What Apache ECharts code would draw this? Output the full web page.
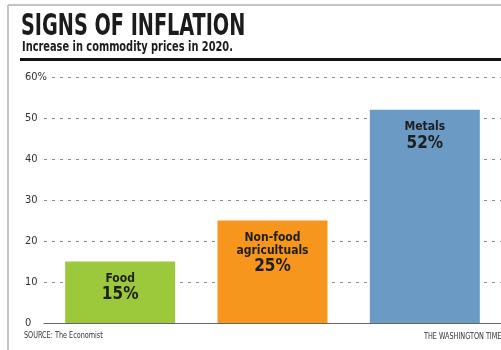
<!DOCTYPE html>
<html lang="en">
<head>
  <meta charset="utf-8">
  <style>
    html, body { margin: 0; padding: 0; background: #fff; }
    #chart { width: 501px; height: 350px; }
  </style>
</head>
<body>
  <div id="chart"></div>
  <script src="https://cdn.jsdelivr.net/npm/echarts@6/dist/echarts.min.js"></script>
  <script>
    // categories and values (percent increase in 2020)
    const categories = ['Food', 'Non-food\nagricultuals', 'Metals'];
    const values = [15, 25, 52];
    const barColors = ['#9cc93b', '#f7961d', '#6b9bc5'];
    const yTicks = [0, 10, 20, 30, 40, 50, 60];

    const FONT = '"DejaVu Sans Condensed", "Liberation Sans Narrow", "Roboto", sans-serif';

    var myChart = echarts.init(document.getElementById('chart'), null, { renderer: 'canvas' });

    var option = {
      animation: false,
      textStyle: { fontFamily: FONT },
      graphic: [
        // frame
        { type: 'line', shape: { x1: 8, y1: 5, x2: 501, y2: 5 }, style: { stroke: '#c4c4c4', lineWidth: 2 } },
        { type: 'line', shape: { x1: 8, y1: 5, x2: 8, y2: 350 }, style: { stroke: '#c4c4c4', lineWidth: 2 } },
        // headline, squeezed to look like the condensed newspaper face
        { type: 'text', x: 21, y: 11, scaleX: 0.69, style: { text: 'SIGNS OF INFLATION', font: 'bold 31px ' + FONT, fill: '#1b1b1b' } },
        { type: 'text', x: 22, y: 40, scaleX: 0.78, style: { text: 'Increase in commodity prices in 2020.', font: 'bold 14px ' + FONT, fill: '#1b1b1b' } },
        // thick rule under subtitle
        { type: 'rect', shape: { x: 20, y: 58, width: 481, height: 3 }, style: { fill: '#111' } },
        { type: 'text', x: 24, y: 331, scaleX: 0.8, style: { text: 'SOURCE: The Economist', font: '9px ' + FONT, fill: '#333' } },
        { type: 'text', x: 424, y: 332, scaleX: 0.8, style: { text: 'THE WASHINGTON TIMES', font: '9px ' + FONT, fill: '#333' } }
      ],
      grid: [
        { left: 44, right: 0, top: 77, bottom: 27 },
        { left: 28, right: 0, top: 77, bottom: 27 }
      ],
      xAxis: [
        {
          type: 'category',
          gridIndex: 0,
          data: categories,
          axisLine: { lineStyle: { color: '#666', width: 1 } },
          axisTick: { inside: true, length: 6, lineStyle: { color: '#666' } },
          axisLabel: { show: false },
          z: 10
        },
        { type: 'value', gridIndex: 1, show: false }
      ],
      yAxis: [
        {
          type: 'value',
          gridIndex: 0,
          min: 0, max: 60, interval: 10,
          axisLine: { show: false },
          axisTick: { show: false },
          axisLabel: { show: false },
          splitLine: { show: false }
        },
        {
          type: 'value',
          gridIndex: 1,
          min: yTicks[0], max: yTicks[yTicks.length - 1], interval: 10,
          axisLine: { show: false },
          axisTick: { show: false },
          axisLabel: {
            align: 'left',
            margin: 3,
            color: '#333',
            fontSize: 11,
            fontFamily: FONT,
            backgroundColor: '#fff',
            padding: [0, 4, 0, 0],
            formatter: function (v) {
              if (v === 0) return '{z|0}';
              return v === 60 ? v + '%' : String(v);
            },
            rich: {
              z: { fontSize: 11, color: '#333', backgroundColor: '#fff', padding: [0, 11, 0, 0] }
            }
          },
          splitLine: {
            show: true,
            lineStyle: { color: '#8a8a8a', type: [3, 5], width: 1 }
          }
        }
      ],
      series: [
        {
          type: 'bar',
          xAxisIndex: 0,
          yAxisIndex: 0,
          barWidth: 110,
          z: 5,
          data: values.map(function (v, i) {
            return { value: v, itemStyle: { color: barColors[i] } };
          }),
          label: {
            show: true,
            position: 'insideTop',
            distance: 11,
            formatter: function (p) {
              var name = p.name.split('\n').map(function (s) { return '{n|' + s + '}'; }).join('\n');
              return name + '\n{v|' + p.value + '%}';
            },
            rich: {
              n: { fontSize: 12, fontWeight: 'bold', color: '#1e1e1e', fontFamily: FONT, lineHeight: 13 },
              v: { fontSize: 17, fontWeight: 'bold', color: '#1e1e1e', fontFamily: FONT, lineHeight: 19 }
            }
          }
        }
      ]
    };
    myChart.setOption(option);
  </script>
</body>
</html>
